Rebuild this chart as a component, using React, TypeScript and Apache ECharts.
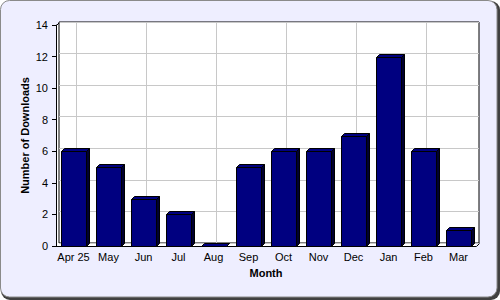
import React, { useEffect, useRef } from "react";
import * as echarts from "echarts";

const months = ["Apr 25", "May", "Jun", "Jul", "Aug", "Sep", "Oct", "Nov", "Dec", "Jan", "Feb", "Mar"];
const downloads = [6, 5, 3, 2, 0, 5, 6, 6, 7, 12, 6, 1];
const yMin = 0;
const yMax = 14;
const yStep = 2;

const FONT = "'Liberation Sans', Arial, sans-serif";

export default function App() {
  const ref = useRef<HTMLDivElement>(null);
  useEffect(() => {
    if (!ref.current) return;
    const chart = echarts.init(ref.current, undefined, { renderer: "svg" });
    const D = 3;
    const option: any = {
      animation: false,
      backgroundColor: "transparent",
      graphic: [
        { type: "rect", z: -20, shape: { x: 1, y: 1, width: 499, height: 299, r: 9 }, style: { fill: "#404040" } },
        { type: "rect", z: -19, shape: { x: 0.5, y: 0.5, width: 496.5, height: 296.5, r: 9 }, style: { fill: "#eeeeff", stroke: "#8a8a8a", lineWidth: 1 } },
        { type: "line", z: 5, shape: { x1: 56.5, y1: 25.5, x2: 59.5, y2: 22.5 }, style: { stroke: "#000", lineWidth: 1 } },
        { type: "line", z: 5, shape: { x1: 476.5, y1: 246.5, x2: 479.5, y2: 243.5 }, style: { stroke: "#000", lineWidth: 1 } },
      ],
      grid: [
        { left: 56, top: 25, width: 420, height: 221, show: true, backgroundColor: "#ffffff", borderWidth: 0, z: 0 },
        { left: 59, top: 22, width: 420, height: 221, show: true, backgroundColor: "#ffffff", borderColor: "#000", borderWidth: 1, z: 0 },
      ],
      xAxis: [
        {
          type: "category",
          gridIndex: 0,
          data: months,
          z: 2,
          axisLine: { lineStyle: { color: "#000", width: 1 } },
          axisTick: { alignWithLabel: true, length: 4, lineStyle: { color: "#000" } },
          axisLabel: { color: "#000", fontFamily: FONT, fontSize: 11, margin: 5, interval: 0 },
          splitLine: { show: false },
          name: "Month",
          nameLocation: "middle",
          nameGap: 21,
          nameMoveOverlap: false,
          nameTextStyle: { color: "#000", fontFamily: FONT, fontSize: 11, fontWeight: "bold" },
        },
        {
          type: "category",
          gridIndex: 1,
          data: months,
          z: 1,
          axisLine: { show: false },
          axisTick: { show: false },
          axisLabel: { show: false },
          splitLine: { show: true, alignWithLabel: true, lineStyle: { color: "#c8c8c8", width: 1 } },
        },
      ],
      yAxis: [
        {
          type: "value",
          gridIndex: 0,
          min: yMin,
          max: yMax,
          interval: yStep,
          z: 2,
          axisLine: { show: true, lineStyle: { color: "#000", width: 1 } },
          axisTick: { show: true, length: 4, lineStyle: { color: "#000" } },
          axisLabel: { color: "#000", fontFamily: FONT, fontSize: 11, margin: 8 },
          splitLine: { show: false },
          name: "Number of Downloads",
          nameLocation: "middle",
          nameGap: 26,
          nameRotate: 90,
          nameMoveOverlap: false,
          nameTextStyle: { color: "#000", fontFamily: FONT, fontSize: 11, fontWeight: "bold" },
        },
        {
          type: "value",
          gridIndex: 1,
          min: yMin,
          max: yMax,
          interval: yStep,
          z: 1,
          axisLine: { show: false },
          axisTick: { show: false },
          axisLabel: { show: false },
          splitLine: { show: true, lineStyle: { color: "#c8c8c8", width: 1 } },
        },
      ],
      series: [
        {
          type: "custom",
          xAxisIndex: 0,
          yAxisIndex: 0,
          z: 3,
          clip: false,
          data: months.map((m, i) => [i, downloads[i]]),
          encode: { x: 0, y: 1 },
          renderItem: (params: any, api: any) => {
            const i = api.value(0);
            const v = api.value(1);
            const base = api.coord([i, 0]);
            const top = api.coord([i, v]);
            const band = api.size([1, 0])[0];
            const w = Math.round((band * 25) / 35);
            const x0 = Math.round(top[0] - w / 2) + 0.5;
            const x1 = x0 + w;
            const y0 = Math.round(top[1]) + 0.5;
            const yb = Math.round(base[1]) + 0.5;
            return {
              type: "group",
              children: [
                {
                  type: "polygon",
                  shape: { points: [[x1, y0], [x1 + D, y0 - D], [x1 + D, yb - D], [x1, yb]] },
                  style: { fill: "#000030", stroke: "#000", lineWidth: 1 },
                },
                {
                  type: "polygon",
                  shape: { points: [[x0, y0], [x0 + D, y0 - D], [x1 + D, y0 - D], [x1, y0]] },
                  style: { fill: "#000080", stroke: "#000", lineWidth: 1 },
                },
                {
                  type: "rect",
                  shape: { x: x0, y: y0, width: w, height: yb - y0 },
                  style: { fill: "#000080", stroke: "#000", lineWidth: 1 },
                },
              ],
            };
          },
        },
      ],
    };
    chart.setOption(option);
    return () => chart.dispose();
  }, []);
  return <div ref={ref} style={{ position: "absolute", left: 0, top: 0, width: 500, height: 300 }} />;
}
